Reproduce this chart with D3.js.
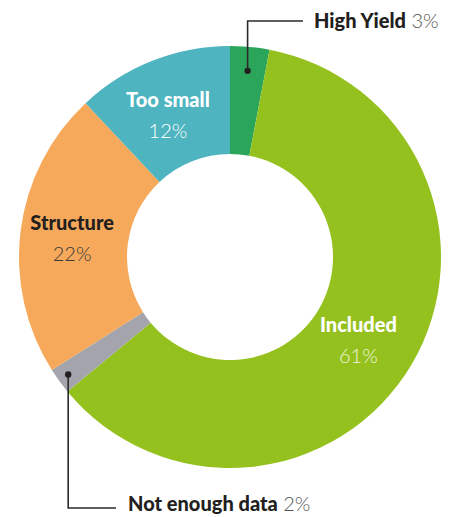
<!DOCTYPE html>
<html>
<head>
<meta charset="utf-8">
<script src="https://cdn.jsdelivr.net/npm/d3@7"></script>
<style>
  html, body { margin: 0; padding: 0; background: #fff; }
  svg { display: block; font-family: Lato, "Noto Sans", sans-serif; }
</style>
</head>
<body>
<svg id="chart" width="452" height="517"></svg>
<script>
// Share of funds by screening outcome
const categories = ["High Yield", "Included", "Not enough data", "Structure", "Too small"];
const shares = [3, 61, 2, 22, 12];
const colors = ["#2aa55a", "#95c11f", "#a4a4ac", "#f6a95a", "#4db4c0"];

const svg = d3.select("#chart");
const cx = 230, cy = 257;
const outerR = 211, innerR = 103;

const data = categories.map((name, i) => ({ name, value: shares[i], color: colors[i] }));

const pie = d3.pie().value(d => d.value).sort(null);
const arcs = pie(data);
const arc = d3.arc().innerRadius(innerR).outerRadius(outerR);

const g = svg.append("g").attr("transform", `translate(${cx},${cy})`);

g.selectAll("path.slice")
  .data(arcs)
  .join("path")
  .attr("class", "slice")
  .attr("d", arc)
  .attr("fill", d => d.data.color);

// Labels inside the larger slices: radius and angular shift from the slice middle
const inside = {
  "Included":  { r: 153, shift: 0.041,  name: "#ffffff", pct: "#eef5da" },
  "Structure": { r: 159, shift: -0.005, name: "#231f20", pct: "#3a3a3a" },
  "Too small": { r: 155, shift: -0.035, name: "#ffffff", pct: "#ffffff" }
};

arcs.filter(d => inside[d.data.name]).forEach(d => {
  const cfg = inside[d.data.name];
  const a = (d.startAngle + d.endAngle) / 2 + cfg.shift;
  const x = Math.sin(a) * cfg.r;
  const y = -Math.cos(a) * cfg.r;
  g.append("text")
    .attr("text-anchor", "middle")
    .attr("x", x).attr("y", y - 8)
    .attr("font-size", 20).attr("font-weight", 900)
    .attr("fill", cfg.name)
    .text(d.data.name);
  g.append("text")
    .attr("text-anchor", "middle")
    .attr("x", x).attr("y", y + 23)
    .attr("font-size", 20).attr("font-weight", 300)
    .attr("fill", cfg.pct)
    .text(d.data.value + "%");
});

// Callouts for the thin slices
const callouts = {
  "High Yield":      { r: 187, elbowY: -236, endX: 73,   textX: 84,   textY: -229 },
  "Not enough data": { r: 200, elbowY: 251,  endX: -114, textX: -102, textY: 254 }
};

arcs.filter(d => callouts[d.data.name]).forEach(d => {
  const c = callouts[d.data.name];
  const a = (d.startAngle + d.endAngle) / 2;
  const x = Math.sin(a) * c.r, y = -Math.cos(a) * c.r;
  g.append("path")
    .attr("d", d3.line()([[x, y], [x, c.elbowY], [c.endX, c.elbowY]]))
    .attr("fill", "none")
    .attr("stroke", "#2b2b2b")
    .attr("stroke-width", 1.6);
  g.append("circle").attr("cx", x).attr("cy", y).attr("r", 3.2).attr("fill", "#231f20");
  const t = g.append("text")
    .attr("x", c.textX).attr("y", c.textY)
    .attr("font-size", 20);
  t.append("tspan").attr("font-weight", 900).attr("fill", "#231f20").text(d.data.name);
  t.append("tspan").attr("font-weight", 300).attr("fill", "#555").text(" " + d.data.value + "%");
});
</script>
</body>
</html>
